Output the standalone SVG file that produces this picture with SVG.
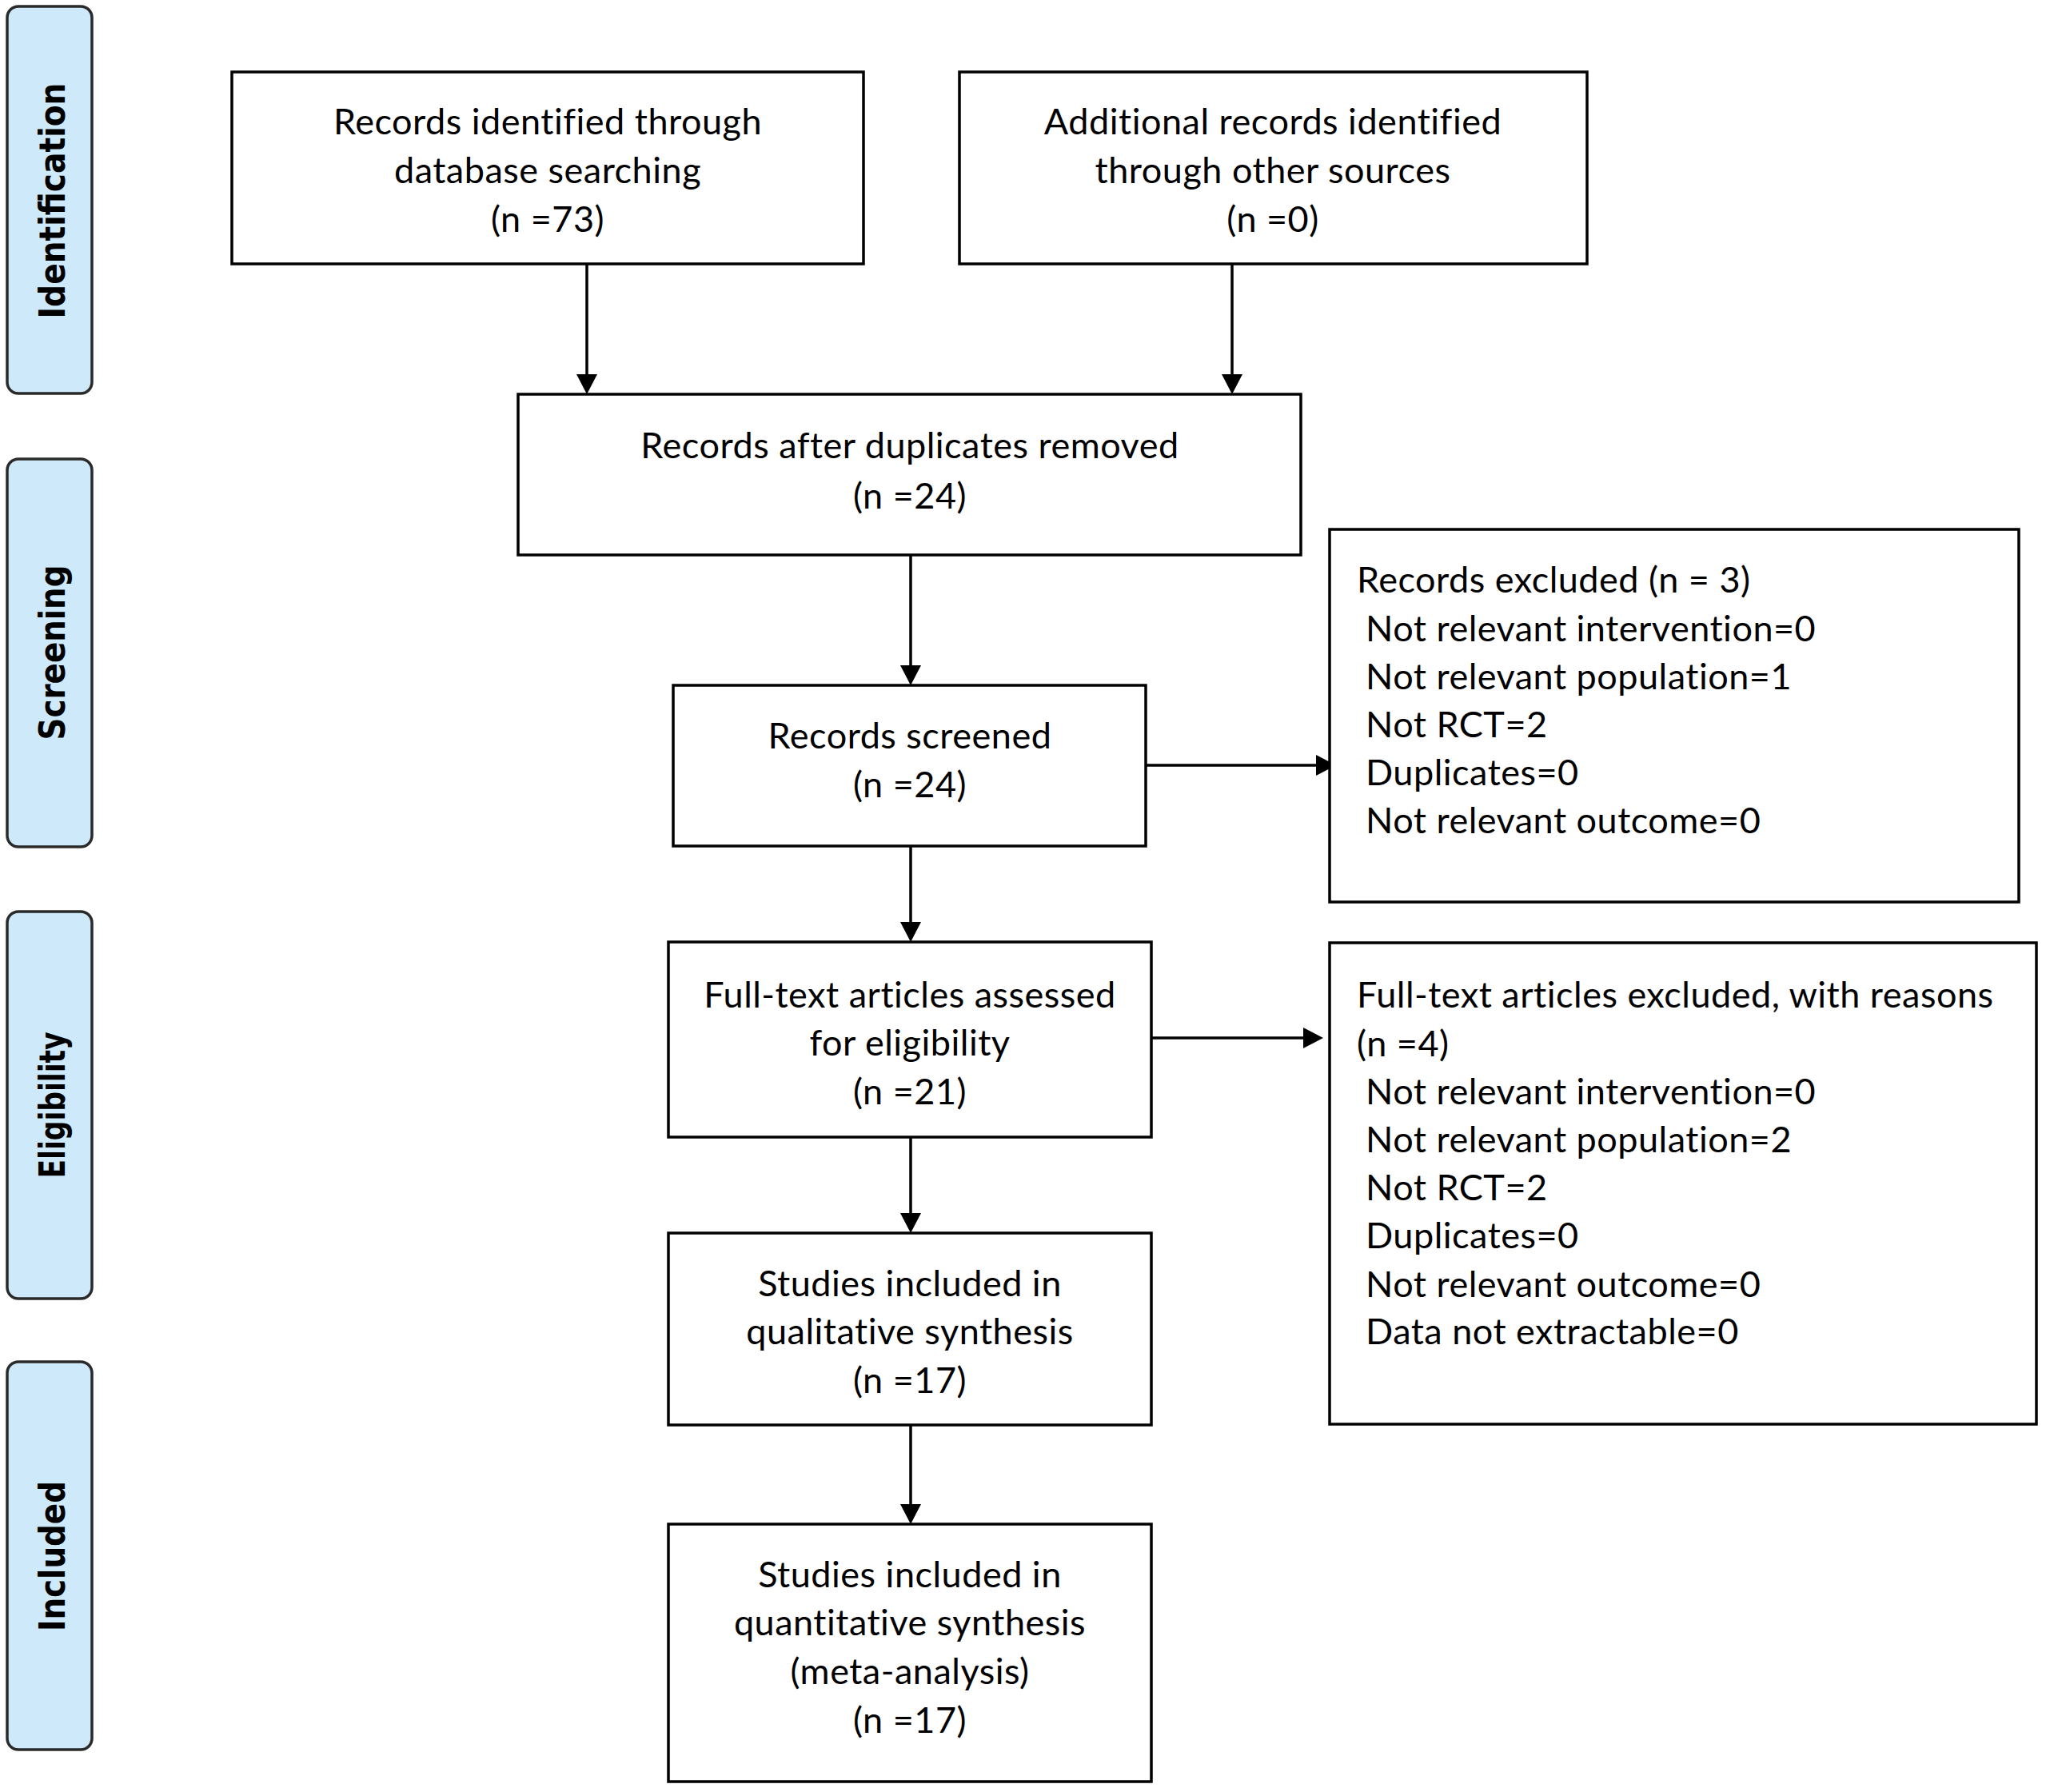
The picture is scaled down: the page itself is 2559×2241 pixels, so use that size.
<svg xmlns="http://www.w3.org/2000/svg" width="2559" height="2241" viewBox="0 0 2559 2241">
<style>
.bg{fill:#ffffff}
.phase{fill:#cde9fa;stroke:#2a2a2a;stroke-width:3.5}
.ptxt{font-family:"DejaVu Sans Condensed","DejaVu Sans",sans-serif;font-stretch:condensed;font-weight:bold;font-size:44px;fill:#000;text-anchor:middle}
.box{fill:#ffffff;stroke:#000;stroke-width:3.5}
.t{font-family:Lato,"Open Sans",sans-serif;font-size:45px;letter-spacing:0.5px;fill:#000}
.c{text-anchor:middle}
.conn{stroke:#000;stroke-width:3.5;fill:none}
.head{fill:#000}
</style>
<rect class="bg" x="0" y="0" width="2559" height="2241"/>

<g id="phase-identification">
<rect class="phase" x="9" y="8" width="106" height="484" rx="14"/>
<text class="ptxt" transform="translate(81,251) rotate(-90)" textLength="295" lengthAdjust="spacingAndGlyphs">Identification</text>
</g>
<g id="phase-screening">
<rect class="phase" x="9" y="574" width="106" height="485" rx="14"/>
<text class="ptxt" transform="translate(81,816) rotate(-90)" textLength="219" lengthAdjust="spacingAndGlyphs">Screening</text>
</g>
<g id="phase-eligibility">
<rect class="phase" x="9" y="1140" width="106" height="484" rx="14"/>
<text class="ptxt" transform="translate(81,1382) rotate(-90)" textLength="183" lengthAdjust="spacingAndGlyphs">Eligibility</text>
</g>
<g id="phase-included">
<rect class="phase" x="9" y="1703" width="106" height="485" rx="14"/>
<text class="ptxt" transform="translate(81,1946) rotate(-90)" textLength="188" lengthAdjust="spacingAndGlyphs">Included</text>
</g>

<g id="connectors">
<line class="conn" x1="734" y1="330" x2="734" y2="470"/>
<polygon class="head" points="721,468 747,468 734,493"/>
<line class="conn" x1="1541" y1="330" x2="1541" y2="470"/>
<polygon class="head" points="1528,468 1554,468 1541,493"/>
<line class="conn" x1="1139" y1="694" x2="1139" y2="834"/>
<polygon class="head" points="1126,832 1152,832 1139,857"/>
<line class="conn" x1="1139" y1="1058" x2="1139" y2="1155"/>
<polygon class="head" points="1126,1153 1152,1153 1139,1178"/>
<line class="conn" x1="1139" y1="1422" x2="1139" y2="1519"/>
<polygon class="head" points="1126,1517 1152,1517 1139,1542"/>
<line class="conn" x1="1139" y1="1782" x2="1139" y2="1883"/>
<polygon class="head" points="1126,1881 1152,1881 1139,1906"/>
<line class="conn" x1="1433" y1="957" x2="1648" y2="957"/>
<polygon class="head" points="1646,944 1646,970 1671,957"/>
<line class="conn" x1="1440" y1="1298" x2="1632" y2="1298"/>
<polygon class="head" points="1630,1285 1630,1311 1655,1298"/>
</g>

<g id="node-db-search">
<rect class="box" x="290" y="90" width="790" height="240"/>
<text class="t c" x="685" y="168">Records identified through</text>
<text class="t c" x="685" y="229">database searching</text>
<text class="t c" x="685" y="290">(n =73)</text>
</g>
<g id="node-other-sources">
<rect class="box" x="1200" y="90" width="785" height="240"/>
<text class="t c" x="1592" y="168">Additional records identified</text>
<text class="t c" x="1592" y="229">through other sources</text>
<text class="t c" x="1592" y="290">(n =0)</text>
</g>
<g id="node-duplicates-removed">
<rect class="box" x="648" y="493" width="979" height="201"/>
<text class="t c" x="1138" y="573">Records after duplicates removed</text>
<text class="t c" x="1138" y="636">(n =24)</text>
</g>
<g id="node-screened">
<rect class="box" x="842" y="857" width="591" height="201"/>
<text class="t c" x="1138" y="936">Records screened</text>
<text class="t c" x="1138" y="997">(n =24)</text>
</g>
<g id="node-records-excluded">
<rect class="box" x="1663" y="662" width="862" height="466"/>
<text class="t" x="1697" y="741">Records excluded (n = 3)</text>
<text class="t" x="1708" y="802">Not relevant intervention=0</text>
<text class="t" x="1708" y="862">Not relevant population=1</text>
<text class="t" x="1708" y="922">Not RCT=2</text>
<text class="t" x="1708" y="982">Duplicates=0</text>
<text class="t" x="1708" y="1042">Not relevant outcome=0</text>
</g>
<g id="node-fulltext-assessed">
<rect class="box" x="836" y="1178" width="604" height="244"/>
<text class="t c" x="1138" y="1260">Full-text articles assessed</text>
<text class="t c" x="1138" y="1320">for eligibility</text>
<text class="t c" x="1138" y="1381">(n =21)</text>
</g>
<g id="node-fulltext-excluded">
<rect class="box" x="1663" y="1179" width="884" height="602"/>
<text class="t" x="1697" y="1260">Full-text articles excluded, with reasons</text>
<text class="t" x="1697" y="1321">(n =4)</text>
<text class="t" x="1708" y="1381">Not relevant intervention=0</text>
<text class="t" x="1708" y="1441">Not relevant population=2</text>
<text class="t" x="1708" y="1501">Not RCT=2</text>
<text class="t" x="1708" y="1561">Duplicates=0</text>
<text class="t" x="1708" y="1622">Not relevant outcome=0</text>
<text class="t" x="1708" y="1681">Data not extractable=0</text>
</g>
<g id="node-qualitative">
<rect class="box" x="836" y="1542" width="604" height="240"/>
<text class="t c" x="1138" y="1621">Studies included in</text>
<text class="t c" x="1138" y="1681">qualitative synthesis</text>
<text class="t c" x="1138" y="1742">(n =17)</text>
</g>
<g id="node-quantitative">
<rect class="box" x="836" y="1906" width="604" height="322"/>
<text class="t c" x="1138" y="1985">Studies included in</text>
<text class="t c" x="1138" y="2045">quantitative synthesis</text>
<text class="t c" x="1138" y="2106">(meta-analysis)</text>
<text class="t c" x="1138" y="2167">(n =17)</text>
</g>
</svg>
